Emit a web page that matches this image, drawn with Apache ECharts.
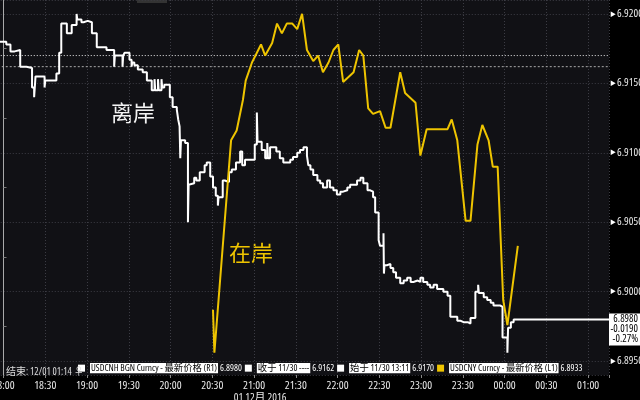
<!DOCTYPE html>
<html><head><meta charset="utf-8">
<script src="https://cdn.jsdelivr.net/npm/echarts@6/dist/echarts.min.js"></script>
<style>html,body{margin:0;padding:0;background:#000}#c{width:640px;height:400px}</style>
</head><body><div id="c"></div>
<script>
const cnhTime = [-3,2,5,8,12,16.5,20.5,22,23,29.5,30,38,40,41.5,45.5,49,52.5,53,56,57.5,60.5,63.5,67,74,79.5,80,85.5,86,87,90.5,92,92.5,94,96.5,100,103,106.5,108.5,109,111,111.5,113.5,114,115.5,119.5,121.5,124.5,125.5,126.5,127,127.5,130.5,132.5,133,134,137,138.5,141,144.5,146,148.5,150.5,152.5,154,154.5,157.5,159,162,164,167,170,171.5,173.5,177,180.5,182,182.5,185.5,188,189.5,190,191.5,196,198.5,201,203.5,206,208,211,213,215.5,218,219,220.5,222.5,225.5,227.5,229.5,232.5,234.5,237,239.5,242,244,247,249,254,256.5,258.5,261.5,263.5,265.5,267,269.5,270.5,273,273.3,273.7,275.5,278,280,282,285,287.5,290,292.5,294.5,297.5,299.5,301.5,304.5,306.5,309,311.5,314,316,319,321,323.5,326,328.5,330.5,333.5,335.5,339,341,341.5,345,347.5,350,352,357,358.5,362,362.5,364.5,366.5,435];
const cnhValue = [6.9180,6.9178,6.9173,6.9174,6.9162,6.9161,6.9147,6.9140,6.9155,6.9147,6.9152,6.9157,6.9172,6.9193,6.9186,6.9192,6.9200,6.9196,6.9194,6.9195,6.9194,6.9186,6.9176,6.9174,6.9162,6.9170,6.9162,6.9170,6.9172,6.9167,6.9162,6.9165,6.9163,6.9160,6.9158,6.9152,6.9145,6.9153,6.9145,6.9153,6.9145,6.9153,6.9147,6.9149,6.9140,6.9133,6.9131,6.9124,6.9119,6.9096,6.9109,6.9107,6.9050,6.9077,6.9078,6.9082,6.9080,6.9086,6.9091,6.9093,6.9083,6.9075,6.9069,6.9062,6.9068,6.9080,6.9079,6.9086,6.9088,6.9093,6.9101,6.9091,6.9095,6.9095,6.9106,6.9129,6.9108,6.9102,6.9096,6.9107,6.9096,6.9104,6.9101,6.9096,6.9093,6.9093,6.9095,6.9097,6.9100,6.9102,6.9104,6.9098,6.9091,6.9088,6.9084,6.9080,6.9078,6.9075,6.9080,6.9075,6.9073,6.9070,6.9072,6.9073,6.9075,6.9077,6.9080,6.9082,6.9078,6.9073,6.9072,6.9068,6.9057,6.9037,6.9033,6.9042,6.9013,6.9019,6.9020,6.9017,6.9014,6.9010,6.9006,6.9008,6.9010,6.9007,6.9008,6.9007,6.9010,6.9007,6.9005,6.9003,6.9005,6.9002,6.9002,6.9000,6.8997,6.8982,6.8982,6.8979,6.8978,6.8978,6.8977,6.8981,6.9000,6.9005,6.8999,6.8996,6.8994,6.8992,6.8990,6.8989,6.8967,6.8956,6.8974,6.8978,6.8980,6.8980];
const cnyTime = [150.5,151.5,163.5,167.5,172,174,178.5,180.5,185,188,193,196.5,200,203.5,207.5,211,214.5,218,222.5,226,229.5,233.5,237,240.5,244,251.5,255.5,258.5,262,265.5,270.5,274.5,278,285,288.5,296,299.5,304,319,322,326,332,335.5,340.5,344,348.5,351.5,355,359,362,369.5];
const cnyValue = [6.8887,6.8856,6.9009,6.9016,6.9038,6.9052,6.9065,6.9069,6.9078,6.9070,6.9079,6.9093,6.9086,6.9093,6.9093,6.9089,6.9100,6.9074,6.9066,6.9070,6.9058,6.9065,6.9074,6.9078,6.9051,6.9058,6.9074,6.9070,6.9032,6.9028,6.9030,6.9018,6.9018,6.9058,6.9043,6.9036,6.8998,6.9017,6.9017,6.9024,6.9009,6.8951,6.8951,6.9006,6.9020,6.9009,6.8990,6.8990,6.8894,6.8876,6.8933];
const closeValue = 6.9162;
const openValue = 6.9170;
const nameCNH = 'USDCNH BGN Curncy - 最新价格 (R1)';
const nameClose = '收于 11/30 ----';
const nameOpen = '始于 11/30 13:11';
const nameCNY = 'USDCNY Curncy - 最新价格 (L1)';
const endTime = '结束: 12/01 01:14 ♀';
const dateLabel = '01 12月 2016';
const xMin = -30, xMax = 435;

const cnhLast = cnhValue[cnhValue.length-1];
const cnyLast = cnyValue[cnyValue.length-1];
const chg = cnhLast - openValue;
const legendVals = {};
legendVals[nameCNH] = cnhLast.toFixed(4);
legendVals[nameClose] = closeValue.toFixed(4);
legendVals[nameOpen] = openValue.toFixed(4);
legendVals[nameCNY] = cnyLast.toFixed(4);

const FONT = '"Open Sans","Noto Sans CJK SC",sans-serif';
const FS = 'condensed';
const YEL = '#EEC400';
const LFS = 9.3;

function fmtTime(v){
  if (Math.abs(v % 30) > 1e-6) return '';
  const tot = (18*60 + v + 24*60) % (24*60);
  const h = Math.floor(tot/60), m = tot % 60;
  const s = (h<10?'0':'')+h+':'+(m<10?'0':'')+m;
  return v === 180 ? s + '\n{d|' + dateLabel + '}' : s;
}

const chart = echarts.init(document.getElementById('c'), null, {renderer:'canvas'});
chart.setOption({
  backgroundColor:'#000',
  animation:false,
  textStyle:{fontFamily:FONT, fontStyle:FS},
  title:{text:endTime, left:1, top:362, textStyle:{color:'#ddd', fontSize:10, fontWeight:'normal', fontStyle:FS, fontFamily:FONT}},
  legend:{
    left:78, top:363, itemWidth:7, itemHeight:7, itemGap:3, icon:'rect', width:1200, padding:0,
    data:[
      {name:nameCNH, itemStyle:{color:'#fff'}},
      {name:nameClose, itemStyle:{color:'#fff'}},
      {name:nameOpen, itemStyle:{color:'#fff'}},
      {name:nameCNY, itemStyle:{color:YEL}}
    ],
    formatter: n => '{n|' + n + '}{v|' + legendVals[n] + '}',
    textStyle:{fontFamily:FONT, fontStyle:FS, rich:{
      n:{backgroundColor:'#fff', color:'#000', fontSize:LFS, padding:[1,1,0,1], fontFamily:FONT, fontStyle:FS},
      v:{color:'#fff', fontSize:LFS, padding:[0,0,0,2], fontFamily:FONT, fontStyle:FS}
    }}
  },
  grid:{left:-38.25, right:31, top:0, bottom:25, show:true, backgroundColor:'#111115', borderWidth:0, containLabel:false, outerBoundsMode:'none'},
  xAxis:{
    type:'value', min:xMin, max:xMax, interval:30,
    axisLine:{show:false},
    axisTick:{show:true, length:3, lineStyle:{color:'#888'}},
    axisLabel:{color:'#e8e8e8', fontSize:11.5, margin:5, fontFamily:FONT, fontStyle:FS, formatter:fmtTime, lineHeight:12,
      rich:{d:{color:'#e8e8e8', fontSize:11, fontFamily:FONT, fontStyle:FS, padding:[0,0,0,12]}}},
    splitLine:{show:true, lineStyle:{color:'#3c3c44', type:[1,2], width:1}}
  },
  yAxis:[
    {type:'value', position:'right', min:6.894, max:6.921,
      axisLine:{show:true, lineStyle:{color:'#aaa', width:1}},
      axisTick:{show:false},
      minorTick:{show:true, splitNumber:2, length:3, lineStyle:{color:'#777'}},
      axisLabel:{showMinLabel:false, showMaxLabel:false, color:'#e8e8e8', fontSize:11, margin:1, fontFamily:FONT, fontStyle:FS,
        formatter: v => '{t|▶}' + v.toFixed(4),
        rich:{t:{fontSize:6, color:'#fff', padding:[0,1,0,0]}}},
      splitLine:{show:true, lineStyle:{color:'#3c3c44', type:[1,2], width:1}}
    },
    {type:'value', position:'left', min:6.884, max:6.911, show:false, splitLine:{show:false}}
  ],
  graphic:[
    {type:'rect', shape:{x:137, y:0, width:30, height:3}, style:{fill:'#333'}},
    {type:'text', left:111, top:102, style:{text:'离岸', fill:'#f4f4f4', font:'22px "Noto Sans CJK SC"'}},
    {type:'text', left:229, top:242, style:{text:'在岸', fill:YEL, font:'22px "Noto Sans CJK SC"'}}
  ],
  series:[
    {name:nameClose, type:'line', yAxisIndex:0, color:'#fff', showSymbol:false, symbol:'none',
      lineStyle:{color:'#aaa', type:[2,2], width:1}, data:[[xMin, closeValue],[xMax, closeValue]]},
    {name:nameOpen, type:'line', yAxisIndex:0, color:'#fff', showSymbol:false, symbol:'none',
      lineStyle:{color:'#eee', type:[1,2], width:1}, data:[[xMin, openValue],[xMax, openValue]]},
    {name:nameCNH, type:'line', yAxisIndex:0, step:'end', showSymbol:false, symbol:'none',
      color:'#fff', lineStyle:{color:'#fff', width:2},
      data: cnhTime.map((t,i)=>[t, cnhValue[i]]),
      endLabel:{show:true, distance:0, offset:[0,10], backgroundColor:'#fff', padding:[1,2,1,2],
        formatter: () => '{a|' + cnhLast.toFixed(4) + '}\n{a|' + chg.toFixed(4) + '}\n{a|' + (chg/openValue*100).toFixed(2) + '%}',
        rich:{a:{color:'#000', fontSize:10.5, align:'right', width:27, lineHeight:10, fontFamily:FONT, fontStyle:FS}}}
    },
    {name:nameCNY, type:'line', yAxisIndex:1, showSymbol:false, symbol:'none',
      color:YEL, lineStyle:{color:YEL, width:2},
      data: cnyTime.map((t,i)=>[t, cnyValue[i]])
    }
  ]
});
</script>
</body></html>
